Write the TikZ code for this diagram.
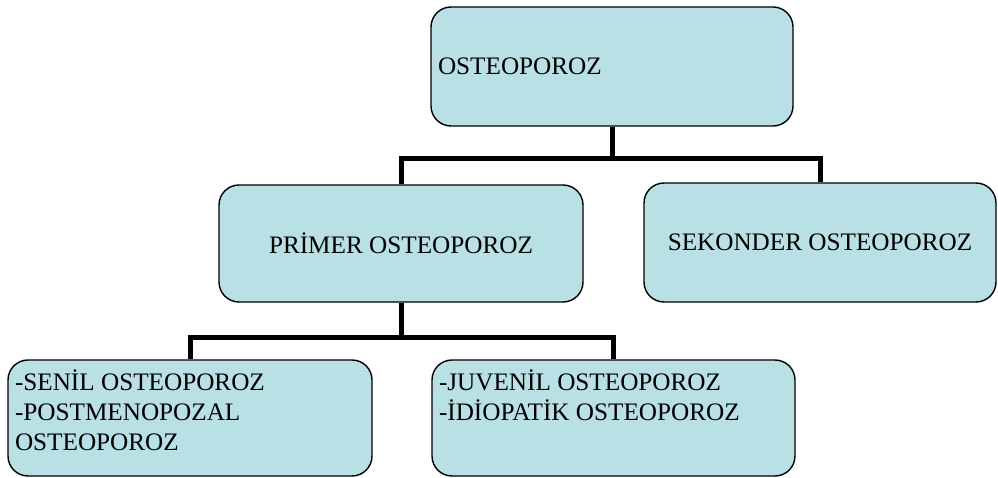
\documentclass[tikz,border=0pt]{standalone}
\usepackage{fontspec}
\setmainfont{Liberation Serif}
\usepackage{tikz}
\definecolor{boxblue}{RGB}{185,224,228}

\begin{document}
\begin{tikzpicture}[x=1pt, y=-1pt,
        box/.style={draw=black, line width=1.4pt, fill=boxblue, rounded corners=20pt,
          inner sep=0pt, font=\fontsize{25.2}{30}\selectfont},
        conn/.style={draw, line width=5pt}
      ]
      \useasboundingbox (0,0) rectangle (998,478);

      \node [box, minimum width=362pt, minimum height=119pt, text width=348pt, align=left] (osteo) at (612,66.5) {OSTEOPOROZ};
      \node [box, minimum width=364pt, minimum height=117pt] (primer) at (401,243.5) {PRİMER OSTEOPOROZ};
      \node [box, minimum width=352pt, minimum height=119pt] (sekonder) at (820,242.5) {SEKONDER OSTEOPOROZ};
      \node [box, minimum width=364pt, minimum height=116pt] (senil) at (190,418)
        {\parbox[c][96pt][t]{350pt}{-SENİL OSTEOPOROZ\\-POSTMENOPOZAL\\OSTEOPOROZ}};
      \node [box, minimum width=363pt, minimum height=116pt] (juvenil) at (613.5,418)
        {\parbox[c][96pt][t]{349pt}{-JUVENİL OSTEOPOROZ\\-İDİOPATİK OSTEOPOROZ}};

      \draw [conn] (osteo.south) -- ++(0,32) coordinate (bar1);
      \draw [conn] (bar1) -| (primer.north);
      \draw [conn] (bar1) -| (sekonder.north);

      \draw [conn] (primer.south) -- ++(0,35) coordinate (bar2);
      \draw [conn] (bar2) -| (senil.north);
      \draw [conn] (bar2) -| (juvenil.north);
    \end{tikzpicture}
\end{document}
